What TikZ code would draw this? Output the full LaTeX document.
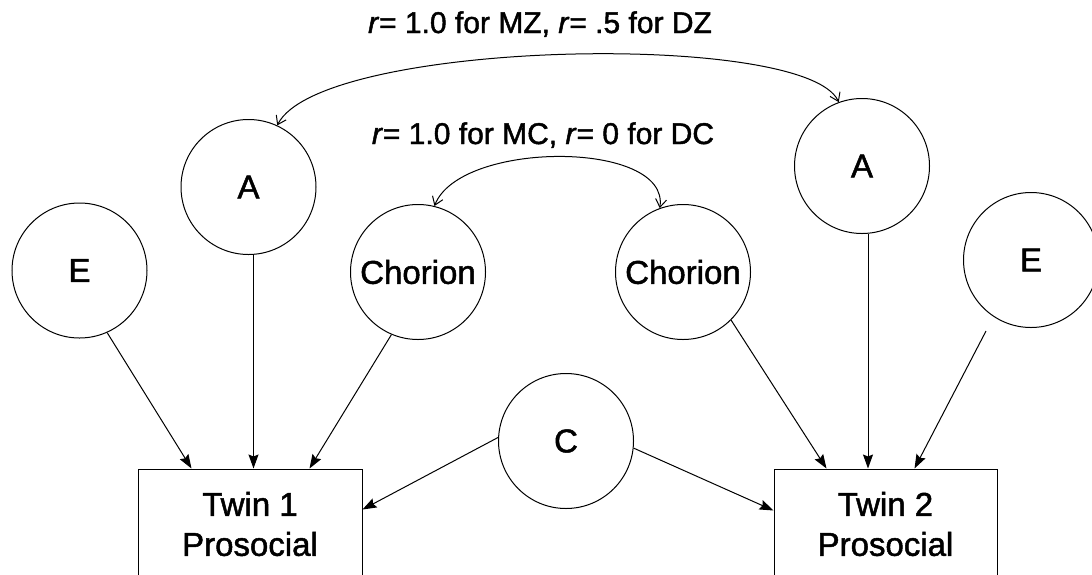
\documentclass[tikz,border=0pt]{standalone}
\usepackage{fontspec}
\setmainfont{Liberation Sans}[FakeBold=1.5]
\usetikzlibrary{arrows.meta,calc}
\begin{document}
\begin{tikzpicture}[x=1pt,y=-1pt,
  latent/.style={circle,draw,line width=1pt,minimum size=135pt,inner sep=0pt,
    font=\fontsize{33}{40}\selectfont},
  observed/.style={rectangle,draw,line width=1pt,minimum width=224pt,minimum height=110pt,
    align=center,font=\fontsize{33}{40}\selectfont},
  effect/.style={line width=1pt,-{Stealth[length=14pt,width=10pt,inset=2pt]}},
  covpath/.style={line width=1pt,
    {Straight Barb[length=8pt,width=11pt]}-{Straight Barb[length=8pt,width=11pt]}},
  corr/.style={font=\fontsize{30}{36}\selectfont,anchor=base,inner sep=0pt}]
\clip (0,0) rectangle (1092,574);

% latent factors
\node[latent] (E1)  at (79.5,270.5) {E};
\node[latent] (A1)  at (248.5,187)  {A};
\node[latent] (Ch1) at (418,272)    {Chorion};
\node[latent] (Ch2) at (683,272)    {Chorion};
\node[latent] (A2)  at (862,166)    {A};
\node[latent] (E2)  at (1031,260)   {E};
\node[latent] (C)   at (566,441)    {C};

% observed phenotypes
\node[observed] (T1) at (250,524)   {Twin 1\\Prosocial};
\node[observed,minimum width=223pt] (T2) at (885.5,524) {Twin 2\\Prosocial};

% correlations between twins
\node[corr] (rA)  at (540,33)  {\textit{r}= 1.0 for MZ, \textit{r}= .5 for DZ};
\node[corr] (rCh) at (543,144) {\textit{r}= 1.0 for MC, \textit{r}= 0 for DC};
\draw[covpath] (A1.65) .. controls (320,40) and (805,30) .. (A2.110);
\draw[covpath] (Ch1.76) .. controls (460,140) and (670,140) .. (Ch2.110);

% paths to twin 1
\draw[effect] (E1.-66) -- ($(T1.north west)+(54,0)$);
\draw[effect] ([xshift=5pt]A1.south) -- ([xshift=5pt]A1.south |- T1.north);
\draw[effect] (Ch1.247) -- ($(T1.north west)+(172,0)$);
\draw[effect] (C.177) -- ($(T1.north east)+(0,41)$);

% paths to twin 2
\draw[effect] (C.-6) -- ($(T2.north west)+(0,42)$);
\draw[effect] (Ch2.-45) -- ($(T2.north west)+(53,0)$);
\draw[effect] ([xshift=6pt]A2.south) -- ([xshift=6pt]A2.south |- T2.north);
\draw[effect] ($(E2.center)+(-45,71)$) -- ($(T2.north west)+(141,0)$);
\end{tikzpicture}
\end{document}
